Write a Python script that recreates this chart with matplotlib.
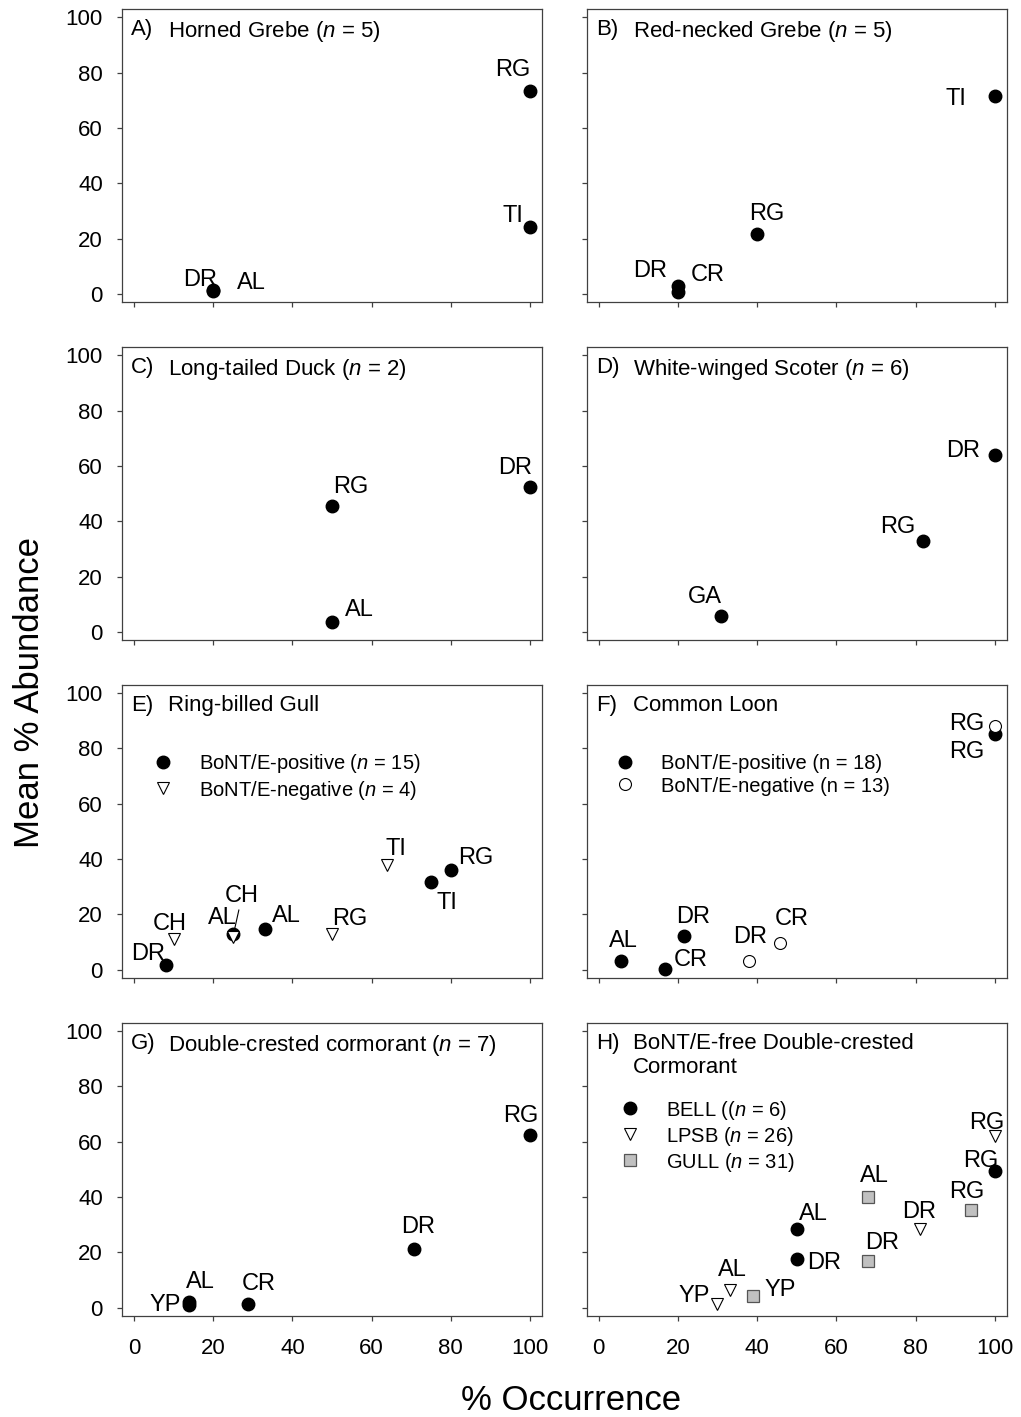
import matplotlib
matplotlib.use("Agg")
import matplotlib.pyplot as plt
from matplotlib.lines import Line2D

plt.rcParams['font.family'] = ['Liberation Sans', 'DejaVu Sans']
plt.rcParams['mathtext.fontset'] = 'custom'
plt.rcParams['mathtext.rm'] = 'Liberation Sans'
plt.rcParams['mathtext.it'] = 'Liberation Sans:italic'

# ---------------- data ----------------
ticks = [0, 20, 40, 60, 80, 100]

a_labels = ["DR", "AL", "RG", "TI"]
a_occ = [20, 20, 100, 100]
a_abund = [1.5, 1.0, 73.5, 24.3]

b_labels = ["DR", "CR", "RG", "TI"]
b_occ = [20, 20, 40, 100]
b_abund = [2.9, 0.8, 21.6, 71.7]

c_labels = ["RG", "DR", "AL"]
c_occ = [50, 100, 50]
c_abund = [45.5, 52.3, 3.5]

d_labels = ["GA", "RG", "DR"]
d_occ = [31, 82, 100]
d_abund = [5.7, 32.8, 63.9]

e_pos_labels = ["DR", "AL", "AL", "TI", "RG"]
e_pos_occ = [8, 25, 33, 75, 80]
e_pos_abund = [1.7, 13.1, 14.9, 31.8, 36.0]
e_neg_labels = ["CH", "CH", "RG", "TI"]
e_neg_occ = [10, 25, 50, 64]
e_neg_abund = [11.0, 12.0, 13.0, 38.0]

f_pos_labels = ["AL", "CR", "DR", "RG"]
f_pos_occ = [5.7, 16.8, 21.6, 100]
f_pos_abund = [3.2, 0.2, 12.3, 85.1]
f_neg_labels = ["DR", "CR", "RG"]
f_neg_occ = [37.9, 45.7, 100]
f_neg_abund = [3.2, 9.7, 88.1]

g_labels = ["YP", "AL", "CR", "DR", "RG"]
g_occ = [14, 14, 28.7, 70.8, 100]
g_abund = [0.9, 2.1, 1.2, 21.2, 62.3]

h_bell_labels = ["AL", "DR", "RG"]
h_bell_occ = [50, 50, 100]
h_bell_abund = [28.4, 17.4, 49.3]
h_lpsb_labels = ["YP", "AL", "DR", "RG"]
h_lpsb_occ = [30, 33.1, 81, 100]
h_lpsb_abund = [1.2, 6.3, 28.4, 61.9]
h_gull_labels = ["YP", "DR", "AL", "RG"]
h_gull_occ = [39, 68, 68, 94]
h_gull_abund = [4.1, 16.9, 40.1, 35.1]

# label offsets (pixels, label centre relative to point)
a_off = [(-13, 13), (38, 11), (-17, 23), (-17, 13)]
b_off = [(-28, 18), (30, 20), (10, 23), (-39, -1)]
c_off = [(19, 22), (-15, 22), (27, 15)]
d_off = [(-17, 22), (-26, 17), (-32, 7)]
e_pos_off = [(-17, 14), (-11, 18), (22, 15), (16, -19), (25, 15)]
e_neg_off = [(-4, 18), (9, 43), (18, 17), (8, 18)]
f_pos_off = [(2, 22), (26, 12), (9, 21), (-28, -15)]
f_neg_off = [(1, 26), (12, 26), (-28, 4)]
g_off = [(-24, 3), (11, 22), (11, 23), (4, 24), (-9, 22)]
h_bell_off = [(17, 17), (27, -1), (-14, 13)]
h_lpsb_off = [(-23, 11), (3, 23), (0, 19), (-8, 16)]
h_gull_off = [(27, 9), (14, 20), (6, 23), (-4, 21)]

# ---------------- layout ----------------
W, H = 1021, 1417
fig = plt.figure(figsize=(W / 100, H / 100), dpi=100)
col_left = [122, 586.7]
ax_w, ax_h = 420, 293
row_top = [9.3 + 337.8 * r for r in range(4)]

SPINE = '#404040'
LBL_FS = 17
CAP = 0.716 * LBL_FS * 100 / 72


def make_ax(r, c):
    ax = fig.add_axes([col_left[c] / W, 1 - (row_top[r] + ax_h) / H, ax_w / W, ax_h / H])
    ax.set_xlim(-3, 103)
    ax.set_ylim(-2.9, 102.9)
    ax.set_xticks(ticks)
    ax.set_yticks(ticks)
    for s in ax.spines.values():
        s.set_color(SPINE)
        s.set_linewidth(0.9)
    ax.tick_params(axis='both', direction='out', length=3.3, width=0.9, color=SPINE,
                   labelsize=16)
    ax.tick_params(axis='x', pad=13)
    ax.tick_params(axis='y', pad=10.5)
    if r != 3:
        ax.tick_params(axis='x', labelbottom=False)
    if c != 0:
        ax.tick_params(axis='y', labelleft=False)
    return ax


def title(ax, letter, name):
    ax.text(9 / ax_w, 1 - 10 / ax_h, letter, transform=ax.transAxes, ha='left', va='top', fontsize=16)
    ax.text(46 / ax_w, 1 - 10 / ax_h, name, transform=ax.transAxes, ha='left', va='top', fontsize=16,
            linespacing=1.2)


def labels(ax, xs, ys, labs, offs, line_idx=()):
    for i, (x, y, t, (dx, dy)) in enumerate(zip(xs, ys, labs, offs)):
        kw = {}
        if i in line_idx:
            kw['arrowprops'] = dict(arrowstyle='-', color='k', lw=0.8, shrinkA=0, shrinkB=4)
        ax.annotate(t, (x, y), xytext=(dx, dy - CAP / 2), textcoords='offset pixels',
                    ha='center', va='baseline', fontsize=LBL_FS, **kw)


dot = dict(marker='o', ls='none', color='k', markersize=9, zorder=3)
odot = dict(marker='o', ls='none', markerfacecolor='white', markeredgecolor='k',
            markersize=8.6, markeredgewidth=0.8, zorder=3)
tri = dict(marker='v', ls='none', markerfacecolor='white', markeredgecolor='k',
           markersize=9, markeredgewidth=0.8, zorder=3)
sq = dict(marker='s', ls='none', markerfacecolor='#c0c0c0', markeredgecolor='#555555',
          markersize=8, markeredgewidth=0.9, zorder=3)

leg_kw = dict(frameon=False, borderpad=0, handlelength=1.0, handletextpad=1.3,
              labelspacing=0.15, fontsize=14.5, loc='upper left', borderaxespad=0)

# A
ax = make_ax(0, 0)
ax.plot(a_occ, a_abund, **dot)
labels(ax, a_occ, a_abund, a_labels, a_off)
title(ax, "A)", r"Horned Grebe ($n$ = 5)")

# B
ax = make_ax(0, 1)
ax.plot(b_occ, b_abund, **dot)
labels(ax, b_occ, b_abund, b_labels, b_off)
title(ax, "B)", r"Red-necked Grebe ($n$ = 5)")

# C
ax = make_ax(1, 0)
ax.plot(c_occ, c_abund, **dot)
labels(ax, c_occ, c_abund, c_labels, c_off)
title(ax, "C)", r"Long-tailed Duck ($n$ = 2)")

# D
ax = make_ax(1, 1)
ax.plot(d_occ, d_abund, **dot)
labels(ax, d_occ, d_abund, d_labels, d_off)
title(ax, "D)", r"White-winged Scoter ($n$ = 6)")

# E
ax = make_ax(2, 0)
h1, = ax.plot(e_pos_occ, e_pos_abund, **dot)
h2, = ax.plot(e_neg_occ, e_neg_abund, **tri)
labels(ax, e_pos_occ, e_pos_abund, e_pos_labels, e_pos_off)
labels(ax, e_neg_occ, e_neg_abund, e_neg_labels, e_neg_off, line_idx=(1,))
title(ax, "E)", "Ring-billed Gull")
ax.legend([h1, h2], [r"BoNT/E-positive ($n$ = 15)", r"BoNT/E-negative ($n$ = 4)"],
          bbox_to_anchor=(31 / ax_w, 1 - 67.6 / ax_h), **leg_kw)

# F
ax = make_ax(2, 1)
h1, = ax.plot(f_pos_occ, f_pos_abund, **dot)
h2, = ax.plot(f_neg_occ, f_neg_abund, **odot)
labels(ax, f_pos_occ, f_pos_abund, f_pos_labels, f_pos_off)
labels(ax, f_neg_occ, f_neg_abund, f_neg_labels, f_neg_off)
title(ax, "F)", "Common Loon")
ax.legend([h1, h2], ["BoNT/E-positive (n = 18)", "BoNT/E-negative (n = 13)"],
          bbox_to_anchor=(28.3 / ax_w, 1 - 69.6 / ax_h), **leg_kw)

# G
ax = make_ax(3, 0)
ax.plot(g_occ, g_abund, **dot)
labels(ax, g_occ, g_abund, g_labels, g_off)
title(ax, "G)", r"Double-crested cormorant ($n$ = 7)")

# H
ax = make_ax(3, 1)
h1, = ax.plot(h_bell_occ, h_bell_abund, **dot)
h2, = ax.plot(h_lpsb_occ, h_lpsb_abund, **tri)
h3, = ax.plot(h_gull_occ, h_gull_abund, **sq)
labels(ax, h_bell_occ, h_bell_abund, h_bell_labels, h_bell_off)
labels(ax, h_lpsb_occ, h_lpsb_abund, h_lpsb_labels, h_lpsb_off)
labels(ax, h_gull_occ, h_gull_abund, h_gull_labels, h_gull_off)
title(ax, "H)", "BoNT/E-free Double-crested\nCormorant")
ax.legend([h1, h2, h3], [r"BELL (($n$ = 6)", r"LPSB ($n$ = 26)", r"GULL ($n$ = 31)"],
          bbox_to_anchor=(33.3 / ax_w, 1 - 75.8 / ax_h), **leg_kw)

fig.text(30 / W, 1 - 692 / H, "Mean % Abundance", rotation=90, ha='center', va='center', fontsize=25)
fig.text(571 / W, 1 - 1400 / H, "% Occurrence", ha='center', va='center', fontsize=25)

fig.savefig("out.png", dpi=100)
